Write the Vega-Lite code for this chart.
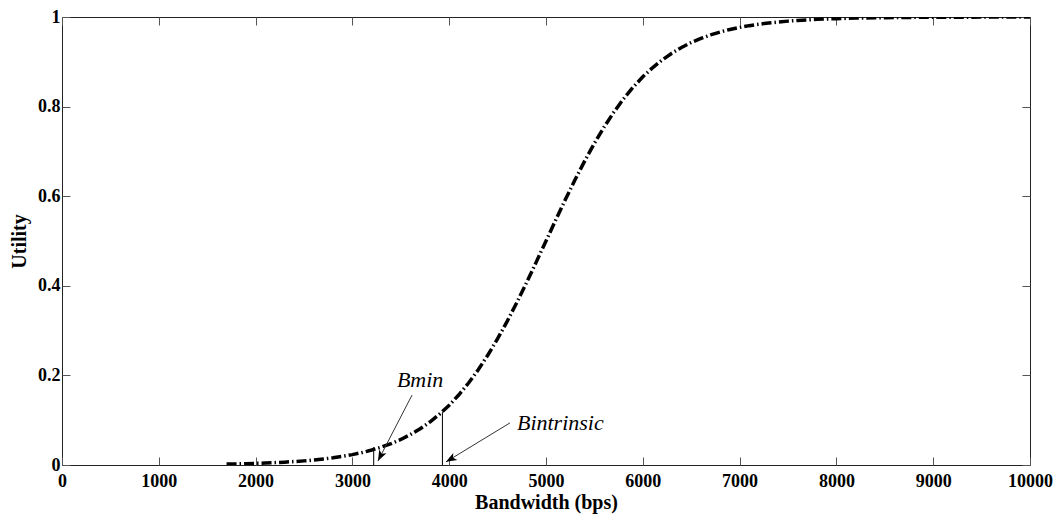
{
  "$schema": "https://vega.github.io/schema/vega-lite/v6.json",
  "width": 968,
  "height": 448,
  "autosize": {"type": "none"},
  "padding": {"left": 62, "top": 17, "right": 25, "bottom": 56},
  "background": "white",
  "config": {
    "view": {"stroke": "#222", "strokeWidth": 1},
    "font": "Liberation Serif",
    "axis": {
      "grid": false,
      "domain": false,
      "labelFlush": false,
      "labelFont": "Liberation Serif",
      "labelFontWeight": "bold",
      "labelFontSize": 18,
      "labelColor": "black",
      "titleFont": "Liberation Serif",
      "titleFontWeight": "bold",
      "titleFontSize": 20,
      "titleColor": "black",
      "tickColor": "#555",
      "tickSize": -8
    }
  },
  "resolve": {"axis": {"x": "independent", "y": "independent"}},
  "layer": [
    {
      "data": {"values": [
        {"bandwidth": 1700, "utility": 0.0021},
        {"bandwidth": 1800, "utility": 0.0025},
        {"bandwidth": 1900, "utility": 0.0030},
        {"bandwidth": 2000, "utility": 0.0037},
        {"bandwidth": 2100, "utility": 0.0044},
        {"bandwidth": 2200, "utility": 0.0053},
        {"bandwidth": 2300, "utility": 0.0064},
        {"bandwidth": 2400, "utility": 0.0077},
        {"bandwidth": 2500, "utility": 0.0092},
        {"bandwidth": 2600, "utility": 0.0111},
        {"bandwidth": 2700, "utility": 0.0134},
        {"bandwidth": 2800, "utility": 0.0161},
        {"bandwidth": 2900, "utility": 0.0193},
        {"bandwidth": 3000, "utility": 0.0232},
        {"bandwidth": 3100, "utility": 0.0278},
        {"bandwidth": 3200, "utility": 0.0334},
        {"bandwidth": 3300, "utility": 0.0400},
        {"bandwidth": 3400, "utility": 0.0478},
        {"bandwidth": 3500, "utility": 0.0570},
        {"bandwidth": 3600, "utility": 0.0680},
        {"bandwidth": 3700, "utility": 0.0808},
        {"bandwidth": 3800, "utility": 0.0959},
        {"bandwidth": 3900, "utility": 0.1134},
        {"bandwidth": 4000, "utility": 0.1335},
        {"bandwidth": 4100, "utility": 0.1567},
        {"bandwidth": 4200, "utility": 0.1830},
        {"bandwidth": 4300, "utility": 0.2127},
        {"bandwidth": 4400, "utility": 0.2456},
        {"bandwidth": 4500, "utility": 0.2819},
        {"bandwidth": 4600, "utility": 0.3212},
        {"bandwidth": 4700, "utility": 0.3634},
        {"bandwidth": 4800, "utility": 0.4075},
        {"bandwidth": 4900, "utility": 0.4534},
        {"bandwidth": 5000, "utility": 0.5000},
        {"bandwidth": 5100, "utility": 0.5466},
        {"bandwidth": 5200, "utility": 0.5925},
        {"bandwidth": 5300, "utility": 0.6366},
        {"bandwidth": 5400, "utility": 0.6788},
        {"bandwidth": 5500, "utility": 0.7181},
        {"bandwidth": 5600, "utility": 0.7544},
        {"bandwidth": 5700, "utility": 0.7873},
        {"bandwidth": 5800, "utility": 0.8170},
        {"bandwidth": 5900, "utility": 0.8433},
        {"bandwidth": 6000, "utility": 0.8665},
        {"bandwidth": 6100, "utility": 0.8866},
        {"bandwidth": 6200, "utility": 0.9041},
        {"bandwidth": 6300, "utility": 0.9192},
        {"bandwidth": 6400, "utility": 0.9320},
        {"bandwidth": 6500, "utility": 0.9430},
        {"bandwidth": 6600, "utility": 0.9522},
        {"bandwidth": 6700, "utility": 0.9600},
        {"bandwidth": 6800, "utility": 0.9666},
        {"bandwidth": 6900, "utility": 0.9722},
        {"bandwidth": 7000, "utility": 0.9768},
        {"bandwidth": 7100, "utility": 0.9807},
        {"bandwidth": 7200, "utility": 0.9839},
        {"bandwidth": 7300, "utility": 0.9866},
        {"bandwidth": 7400, "utility": 0.9889},
        {"bandwidth": 7500, "utility": 0.9908},
        {"bandwidth": 7600, "utility": 0.9924},
        {"bandwidth": 7700, "utility": 0.9936},
        {"bandwidth": 7800, "utility": 0.9947},
        {"bandwidth": 7900, "utility": 0.9956},
        {"bandwidth": 8000, "utility": 0.9963},
        {"bandwidth": 8100, "utility": 0.9970},
        {"bandwidth": 8200, "utility": 0.9975},
        {"bandwidth": 8300, "utility": 0.9979},
        {"bandwidth": 8400, "utility": 0.9983},
        {"bandwidth": 8500, "utility": 0.9986},
        {"bandwidth": 8600, "utility": 0.9988},
        {"bandwidth": 8800, "utility": 0.9992},
        {"bandwidth": 9000, "utility": 0.9994},
        {"bandwidth": 9200, "utility": 0.9996},
        {"bandwidth": 9400, "utility": 0.9997},
        {"bandwidth": 9600, "utility": 0.9998},
        {"bandwidth": 9800, "utility": 0.9999},
        {"bandwidth": 10000, "utility": 0.9999}
      ]},
      "mark": {"type": "line", "color": "black", "strokeWidth": 3.5, "strokeDash": [10, 3, 1.5, 3], "clip": true},
      "encoding": {
        "x": {"field": "bandwidth", "type": "quantitative",
          "scale": {"domain": [0, 10000], "nice": false, "zero": true},
          "axis": {"orient": "bottom", "title": "Bandwidth (bps)", "format": "d",
            "values": [0, 1000, 2000, 3000, 4000, 5000, 6000, 7000, 8000, 9000, 10000],
            "labelPadding": 15, "titlePadding": 2}},
        "y": {"field": "utility", "type": "quantitative",
          "scale": {"domain": [0, 1], "nice": false},
          "axis": {"orient": "left", "title": "Utility", "format": "~g",
            "values": [0, 0.2, 0.4, 0.6, 0.8, 1],
            "labelPadding": 10, "titlePadding": 8}}
      }
    },
    {
      "data": {"values": [
        {"marker": "Bmin", "bandwidth": 3220, "low": 0, "high": 0.04},
        {"marker": "Bintrinsic", "bandwidth": 3930, "low": 0, "high": 0.118}
      ]},
      "mark": {"type": "rule", "color": "black", "strokeWidth": 1},
      "encoding": {
        "x": {"field": "bandwidth", "type": "quantitative",
          "axis": {"orient": "top", "labels": false, "title": null,
            "values": [0, 1000, 2000, 3000, 4000, 5000, 6000, 7000, 8000, 9000, 10000]}},
        "y": {"field": "low", "type": "quantitative",
          "axis": {"orient": "right", "labels": false, "title": null,
            "values": [0, 0.2, 0.4, 0.6, 0.8, 1]}},
        "y2": {"field": "high"}
      }
    },
    {
      "data": {"values": [
        {"label": "Bmin", "x0": 3616, "y0": 0.156, "x1": 3264, "y1": 0.009},
        {"label": "Bintrinsic", "x0": 4628, "y0": 0.094, "x1": 3967, "y1": 0.007}
      ]},
      "mark": {"type": "rule", "color": "#333", "strokeWidth": 1},
      "encoding": {
        "x": {"field": "x0", "type": "quantitative", "axis": null},
        "y": {"field": "y0", "type": "quantitative", "axis": null},
        "x2": {"field": "x1"},
        "y2": {"field": "y1"}
      }
    },
    {
      "data": {"values": [{"label": "Bmin", "x1": 3264, "y1": 0.009}]},
      "mark": {"type": "point", "shape": "M0,0L0.6,1.6L0,1.2L-0.6,1.6Z", "filled": true, "color": "black", "opacity": 1, "size": 180, "angle": 207},
      "encoding": {
        "x": {"field": "x1", "type": "quantitative", "axis": null},
        "y": {"field": "y1", "type": "quantitative", "axis": null}
      }
    },
    {
      "data": {"values": [{"label": "Bintrinsic", "x1": 3967, "y1": 0.007}]},
      "mark": {"type": "point", "shape": "M0,0L0.6,1.6L0,1.2L-0.6,1.6Z", "filled": true, "color": "black", "opacity": 1, "size": 180, "angle": 240},
      "encoding": {
        "x": {"field": "x1", "type": "quantitative", "axis": null},
        "y": {"field": "y1", "type": "quantitative", "axis": null}
      }
    },
    {
      "data": {"values": [
        {"label": "Bmin", "x": 3460, "y": 0.174},
        {"label": "Bintrinsic", "x": 4700, "y": 0.078}
      ]},
      "mark": {"type": "text", "font": "Liberation Serif", "fontStyle": "italic", "fontSize": 22, "align": "left", "baseline": "alphabetic", "color": "black"},
      "encoding": {
        "x": {"field": "x", "type": "quantitative", "axis": null},
        "y": {"field": "y", "type": "quantitative", "axis": null},
        "text": {"field": "label"}
      }
    }
  ]
}
